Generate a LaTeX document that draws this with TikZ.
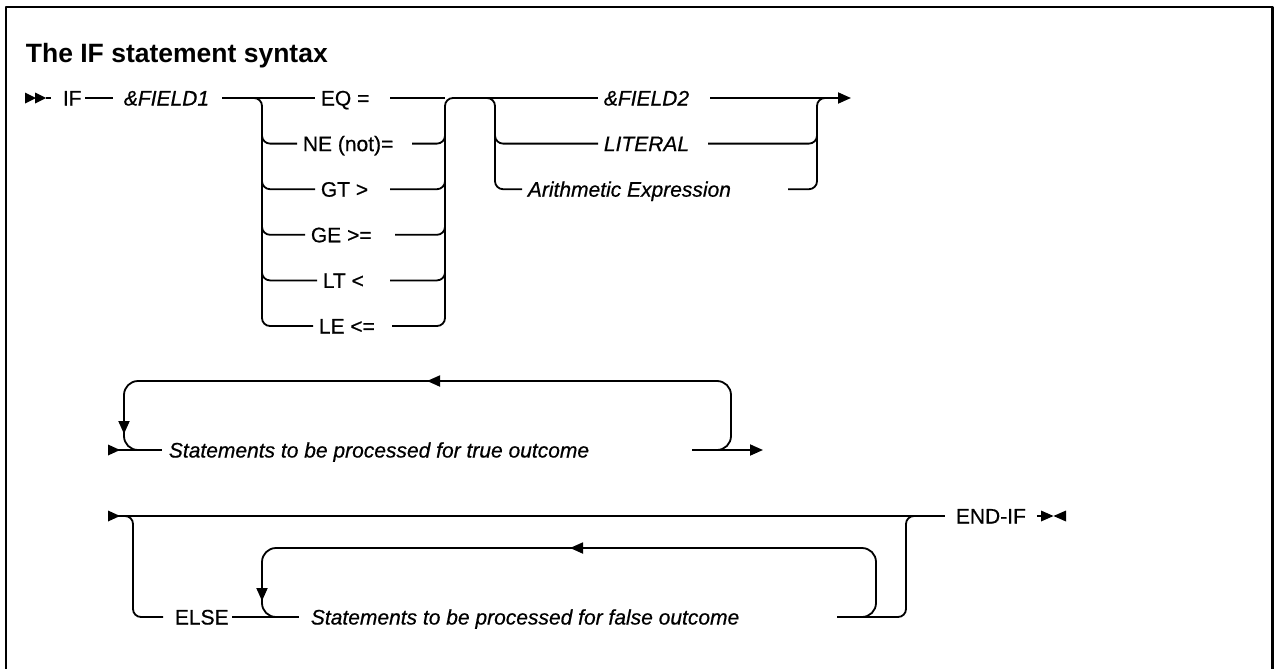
\documentclass[tikz,border=0pt]{standalone}
\usepackage{fontspec}
\setmainfont{Liberation Sans}
\newfontfamily\dfont{Liberation Sans}[FakeBold=0.6]
\usetikzlibrary{arrows.meta}
\begin{document}
\begin{tikzpicture}[x=1pt,y=-1pt,line width=1.8pt,line join=round,
  txt/.style={inner xsep=0pt,inner ysep=0pt,text height=15pt,text depth=0pt,anchor=west,font=\dfont\fontsize{21}{25}\selectfont},
  itxt/.style={txt,font=\dfont\fontsize{21}{25}\selectfont\itshape},
  br/.style={rounded corners=8pt},
  lp/.style={rounded corners=14pt},
  tip/.style={-{Triangle[length=13pt,width=11pt]}}]
\useasboundingbox (0,0) rectangle (1274,669);
% frame
\draw[line width=2.2pt] (6,690) -- (6,7) -- (1272.5,7) -- (1272.5,690);
% title
\node[font=\fontsize{26.5}{30}\selectfont\bfseries,anchor=base west,inner sep=0pt] (title) at (25,62.5) {The IF statement syntax};

% ---------- row 1 ----------
\coordinate (m1) at (46,98);
\fill (25,92.5) -- (36,98) -- (25,103.5) -- cycle;
\fill (35,92.5) -- (46,98) -- (35,103.5) -- cycle;
\node[txt] (if) at (62,98) {IF};
\node[itxt] (f1) at (123,98) {\&FIELD1};
\node[txt] (eq) at (320,98) {EQ =};
\node[txt] (ne) at (302,143.6) {NE (not)=};
\node[txt] (gt) at (320,189.2) {GT >};
\node[txt] (ge) at (310,234.8) {GE >=};
\node[txt] (lt) at (322,280.4) {LT <};
\node[txt] (le) at (318,326) {LE <=};
\node[itxt] (f2) at (603,98) {\&FIELD2};
\node[itxt] (lit) at (603,143.6) {LITERAL};
\node[itxt] (arith) at (527,189.2) {Arithmetic Expression};

\coordinate (oL) at (262,98);
\coordinate (oR) at (445,98);
\coordinate (pL) at (495,98);
\coordinate (pR) at (817,98);
\coordinate (end1) at (851,98);

\draw (m1) -- ([xshift=-11pt]if.west);
\draw ([xshift=3pt]if.east) -- ([xshift=-10pt]f1.west);
\draw (222,98) -- ([xshift=-5pt]eq.west);
% operator left bracket
\draw[br] (248,98) -| (262,326) -- ([xshift=-5pt]le.west);
\foreach \n/\y in {ne/143.6,gt/189.2,ge/234.8,lt/280.4}{
  \draw[br] (262,\y-20) |- ([xshift=-5pt]\n.west);
}
% operator right bracket
\draw (390,98) -- (oR);
\draw[br] (412,143.6) -| (445,123);
\draw[br] (390,189.2) -| (445,169);
\draw[br] (395,234.8) -| (445,214);
\draw[br] (390,280.4) -| (445,260);
\draw[br] (392,326) -| (oR) -- (pL) |- ([xshift=-5pt]arith.west);
% operand group
\draw (487,98) -- ([xshift=-5pt]f2.west);
\draw[br] (495,123) |- ([xshift=-5pt]lit.west);
\draw[tip] (710,98) -- (end1);
\draw[br] (708,143.6) -| (817,123);
\draw[br] (788,189.2) -| (pR) -- (835,98);

% ---------- row 2 ----------
\coordinate (m2) at (108,450);
\coordinate (end2) at (763,450);
\fill (108,444.5) -- (120,450) -- (108,455.5) -- cycle;
\node[itxt] (t) at (168,450) {Statements to be processed for true outcome};
\draw (m2) -- ([xshift=-6pt]t.west);
\draw[tip] (692,450) -- (end2);
\draw[lp] (700,450) -| (731,381) -| (124,450) -- (150,450);
\draw[tip] (445,381) -- (427,381);
\draw[tip] (124,412) -- (124,434);

% ---------- row 3 ----------
\coordinate (m3) at (108,516);
\fill (108,510.5) -- (120,516) -- (108,521.5) -- cycle;
\node[txt] (else) at (174,617) {ELSE};
\node[itxt] (f) at (310,617) {Statements to be processed for false outcome};
\node[txt] (endif) at (955,516) {END-IF};
\draw (m3) -- ([xshift=-10pt]endif.west);
\draw[br] (120,516) -| (133,617) -- ([xshift=-11pt]else.west);
\draw (232,617) -- ([xshift=-11pt]f.west);
\draw[lp] (850,617) -| (876,548) -| (262,617) -- (285,617);
\draw[tip] (590,548) -- (570,548);
\draw[tip] (262,578) -- (262,601);
\draw[br] (837,617) -| (906,516) -- (925,516);
% end marker
\draw ([xshift=10pt]endif.east) -- (1041,516);
\fill (1041,510.5) -- (1053.5,516) -- (1041,521.5) -- cycle;
\fill (1066,510.5) -- (1053.5,516) -- (1066,521.5) -- cycle;
\end{tikzpicture}
\end{document}
